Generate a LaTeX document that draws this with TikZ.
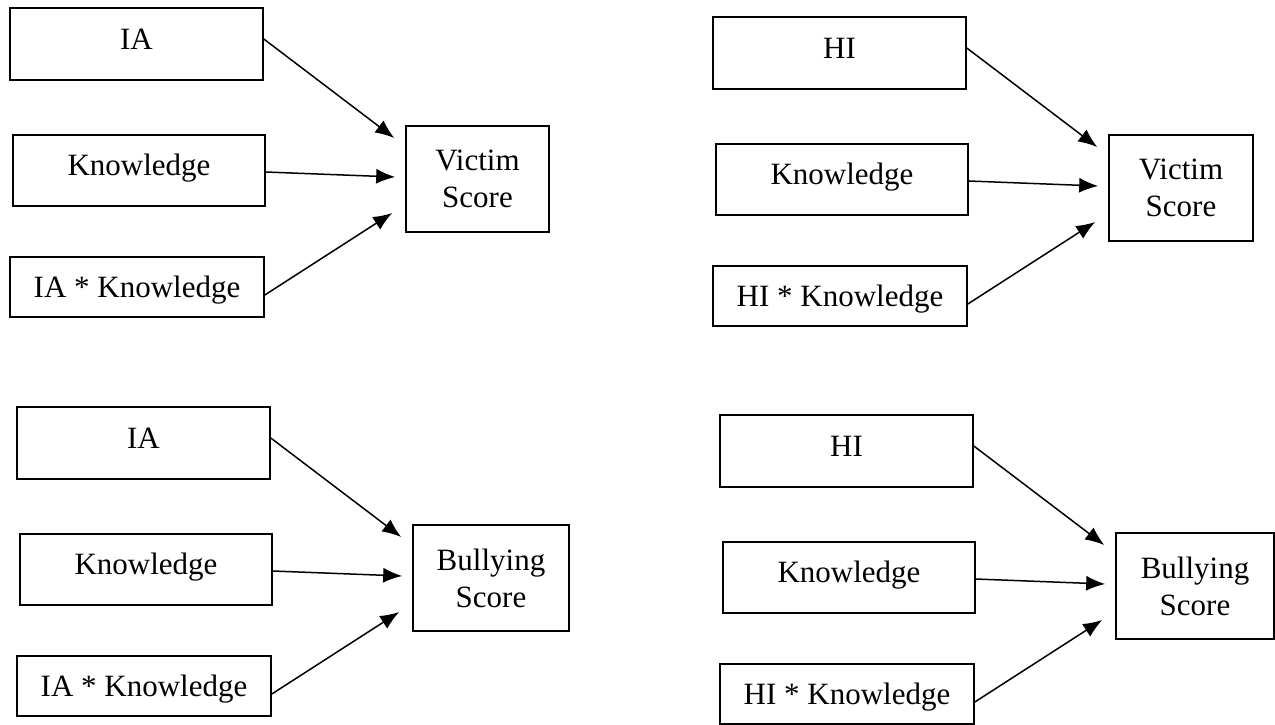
\documentclass[tikz,border=0pt]{standalone}
\usepackage{fontspec}
\setmainfont{Liberation Serif}
\usepackage{tikz}
\usetikzlibrary{arrows.meta}

\tikzset{
  caja/.style={draw,line width=1.6pt,inner sep=0pt,font=\fontsize{31}{37}\selectfont},
  pred/.style={caja,text height=20pt,text depth=10pt},
  flecha/.style={line width=1.5pt,-{Latex[length=19pt,width=15pt]}}
}

\begin{document}
\begin{tikzpicture}[x=1pt,y=-1pt]
  % Marco de la figura
  \useasboundingbox (0,0) rectangle (1275,724);

  % Cuatro paneles: origen, variable, respuesta y ancho de la caja de respuesta
  \foreach \ox/\oy/\var/\resp/\ancho/\n in {10/8/IA/Victim/143/1, 713/17/HI/Victim/144/2,
      17/407/IA/Bullying/156/3, 720/415/HI/Bullying/158/4} {
    \begin{scope}[shift={(\ox,\oy)}]
      % Predictores
      \node[pred,minimum width=253pt,minimum height=72pt] (a\n) at (126.5,36) {\var};
      \node[pred,minimum width=252pt,minimum height=71pt] (k\n) at (129,162.5) {Knowledge};
      \node[pred,text height=25pt,text depth=4pt,minimum width=254pt,minimum height=60pt]
        (ak\n) at (127,279) {\var{} * Knowledge};

      % Variable respuesta
      \node[caja,align=center,minimum width=\ancho pt,minimum height=106pt] (r\n)
        at ({396+\ancho/2},171) {\resp\\Score};

      % Flechas hacia la respuesta
      \draw[flecha] ([yshift=5pt]a\n.east) -- ([xshift=-11pt,yshift=41pt]r\n.west);
      \draw[flecha] ([yshift=-1.5pt]k\n.east) -- ([xshift=-10pt,yshift=2pt]r\n.west);
      \draw[flecha] ([yshift=-8pt]ak\n.east) -- ([xshift=-13pt,yshift=-34pt]r\n.west);
    \end{scope}
  }
\end{tikzpicture}
\end{document}
